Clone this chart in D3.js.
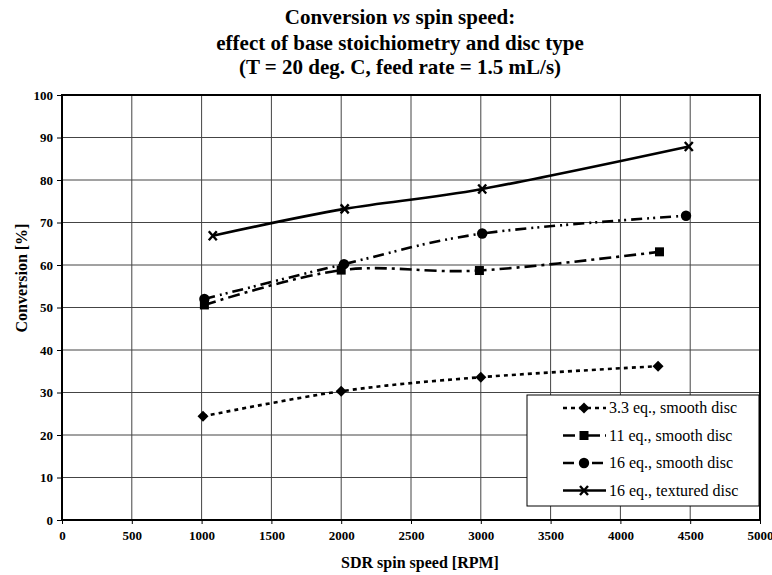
<!DOCTYPE html>
<html>
<head>
<meta charset="utf-8">
<script src="https://cdn.jsdelivr.net/npm/d3@7"></script>
<style>
  html, body { margin: 0; padding: 0; background: #fff; }
</style>
</head>
<body>
<svg id="chart" width="772" height="575"></svg>
<script>
// ---- data ----
const titleLines = ["Conversion vs spin speed:", "effect of base stoichiometry and disc type", "(T = 20 deg. C, feed rate = 1.5 mL/s)"];
const xTicks = [0, 500, 1000, 1500, 2000, 2500, 3000, 3500, 4000, 4500, 5000];
const yTicks = [0, 10, 20, 30, 40, 50, 60, 70, 80, 90, 100];
const seriesNames = ["3.3 eq., smooth disc", "11 eq., smooth disc", "16 eq., smooth disc", "16 eq., textured disc"];
const s33x = [1010, 2000, 3000, 4270];
const s33y = [24.4, 30.3, 33.6, 36.2];
const s11x = [1020, 2000, 2990, 4280];
const s11y = [50.6, 58.8, 58.7, 63.1];
const s16x = [1020, 2020, 3010, 4470];
const s16y = [52.0, 60.2, 67.4, 71.6];
const s16tx = [1080, 2025, 3010, 4490];
const s16ty = [66.9, 73.2, 77.9, 87.9];

const series = [
  { name: seriesNames[0], xs: s33x, ys: s33y, marker: "diamond", dash: "4,4" },
  { name: seriesNames[1], xs: s11x, ys: s11y, marker: "square", dash: "12,5,3,5" },
  { name: seriesNames[2], xs: s16x, ys: s16y, marker: "circle", dash: "11,5,2,4,2,5" },
  { name: seriesNames[3], xs: s16tx, ys: s16ty, marker: "x", dash: null }
];

const FONT = "'Liberation Serif', 'Times New Roman', serif";
const svg = d3.select("#chart");
const pLeft = 62, pRight = 760, pTop = 95, pBottom = 520;
const x = d3.scaleLinear().domain([0, 5000]).range([pLeft, pRight]);
const y = d3.scaleLinear().domain([0, 100]).range([pBottom, pTop]);

function txt(sel) { return sel.attr("font-family", FONT).style("font-family", FONT).attr("fill", "#000"); }

// title
const title = txt(svg.append("text")).attr("text-anchor", "middle")
  .style("font-size", "21px").style("font-weight", "bold");
title.append("tspan").attr("x", 400).attr("y", 24).text("Conversion ");
title.append("tspan").style("font-style", "italic").text("vs");
title.append("tspan").text("  spin speed:");
txt(svg.append("text")).attr("x", 400).attr("y", 50).attr("text-anchor", "middle")
  .style("font-size", "21px").style("font-weight", "bold").text(titleLines[1]);
txt(svg.append("text")).attr("x", 400).attr("y", 74).attr("text-anchor", "middle")
  .style("font-size", "21px").style("font-weight", "bold").text(titleLines[2]);

// gridlines
svg.append("g").selectAll("line").data(yTicks).join("line")
  .attr("x1", pLeft).attr("x2", pRight).attr("y1", d => y(d)).attr("y2", d => y(d))
  .attr("stroke", "#444").attr("stroke-width", 1);
svg.append("g").selectAll("line").data(xTicks).join("line")
  .attr("y1", pTop).attr("y2", pBottom).attr("x1", d => x(d)).attr("x2", d => x(d))
  .attr("stroke", "#444").attr("stroke-width", 1);

// axes
const yAxis = d3.axisLeft(y).tickValues(yTicks).tickFormat(d3.format("d")).tickSize(5).tickPadding(4);
const gy = svg.append("g").attr("transform", `translate(${pLeft},0)`).call(yAxis);
const xAxis = d3.axisBottom(x).tickValues(xTicks).tickFormat(d3.format("d")).tickSize(4).tickPadding(7);
const gx = svg.append("g").attr("transform", `translate(0,${pBottom})`).call(xAxis);
[gy, gx].forEach(g => {
  g.attr("font-family", FONT);
  g.select(".domain").remove();
  g.selectAll("line").attr("stroke", "#000");
  txt(g.selectAll("text")).style("font-size", "13px").style("font-weight", "bold");
});

// plot border
svg.append("rect").attr("x", pLeft).attr("y", pTop).attr("width", pRight - pLeft).attr("height", pBottom - pTop)
  .attr("fill", "none").attr("stroke", "#000").attr("stroke-width", 2);

// axis titles
txt(svg.append("text")).attr("x", 420).attr("y", 568).attr("text-anchor", "middle")
  .style("font-size", "16px").style("font-weight", "bold").text("SDR spin speed [RPM]");
txt(svg.append("text")).attr("transform", "translate(27,278) rotate(-90)")
  .attr("text-anchor", "middle").style("font-size", "16px").style("font-weight", "bold")
  .text("Conversion [%]");

// markers
function drawMarker(g, type, cx, cy) {
  if (type === "diamond") {
    g.append("path").attr("d", `M${cx},${cy - 5.5}L${cx + 5.5},${cy}L${cx},${cy + 5.5}L${cx - 5.5},${cy}Z`).attr("fill", "#000");
  } else if (type === "square") {
    g.append("rect").attr("x", cx - 4.5).attr("y", cy - 4.5).attr("width", 9).attr("height", 9).attr("fill", "#000");
  } else if (type === "circle") {
    g.append("circle").attr("cx", cx).attr("cy", cy).attr("r", 5.2).attr("fill", "#000");
  } else {
    g.append("path").attr("d", `M${cx - 4},${cy - 4.5}L${cx + 4},${cy + 4.5}M${cx + 4},${cy - 4.5}L${cx - 4},${cy + 4.5}`)
      .attr("stroke", "#000").attr("stroke-width", 2.4).attr("fill", "none");
  }
}

const line = d3.line().x(d => x(d[0])).y(d => y(d[1])).curve(d3.curveCardinal.tension(0));
series.forEach(s => {
  const pts = s.xs.map((v, i) => [v, s.ys[i]]);
  const g = svg.append("g");
  g.append("path").attr("d", line(pts)).attr("fill", "none").attr("stroke", "#000")
    .attr("stroke-width", 2.6).attr("stroke-dasharray", s.dash);
  pts.forEach(p => drawMarker(g, s.marker, x(p[0]), y(p[1])));
});

// legend
const lg = svg.append("g");
const lx = 527, ly = 395, lw = 232, lh = 111;
lg.append("rect").attr("x", lx).attr("y", ly).attr("width", lw).attr("height", lh)
  .attr("fill", "#fff").attr("stroke", "#000").attr("stroke-width", 1);
series.forEach((s, i) => {
  const ry = ly + 13 + i * 27.5;
  lg.append("line").attr("x1", lx + 36).attr("x2", lx + 79).attr("y1", ry).attr("y2", ry)
    .attr("stroke", "#000").attr("stroke-width", 2.6).attr("stroke-dasharray", s.dash);
  drawMarker(lg, s.marker, lx + 57, ry);
  txt(lg.append("text")).attr("x", lx + 82).attr("y", ry + 5).style("font-size", "16px").text(s.name);
});
</script>
</body>
</html>
